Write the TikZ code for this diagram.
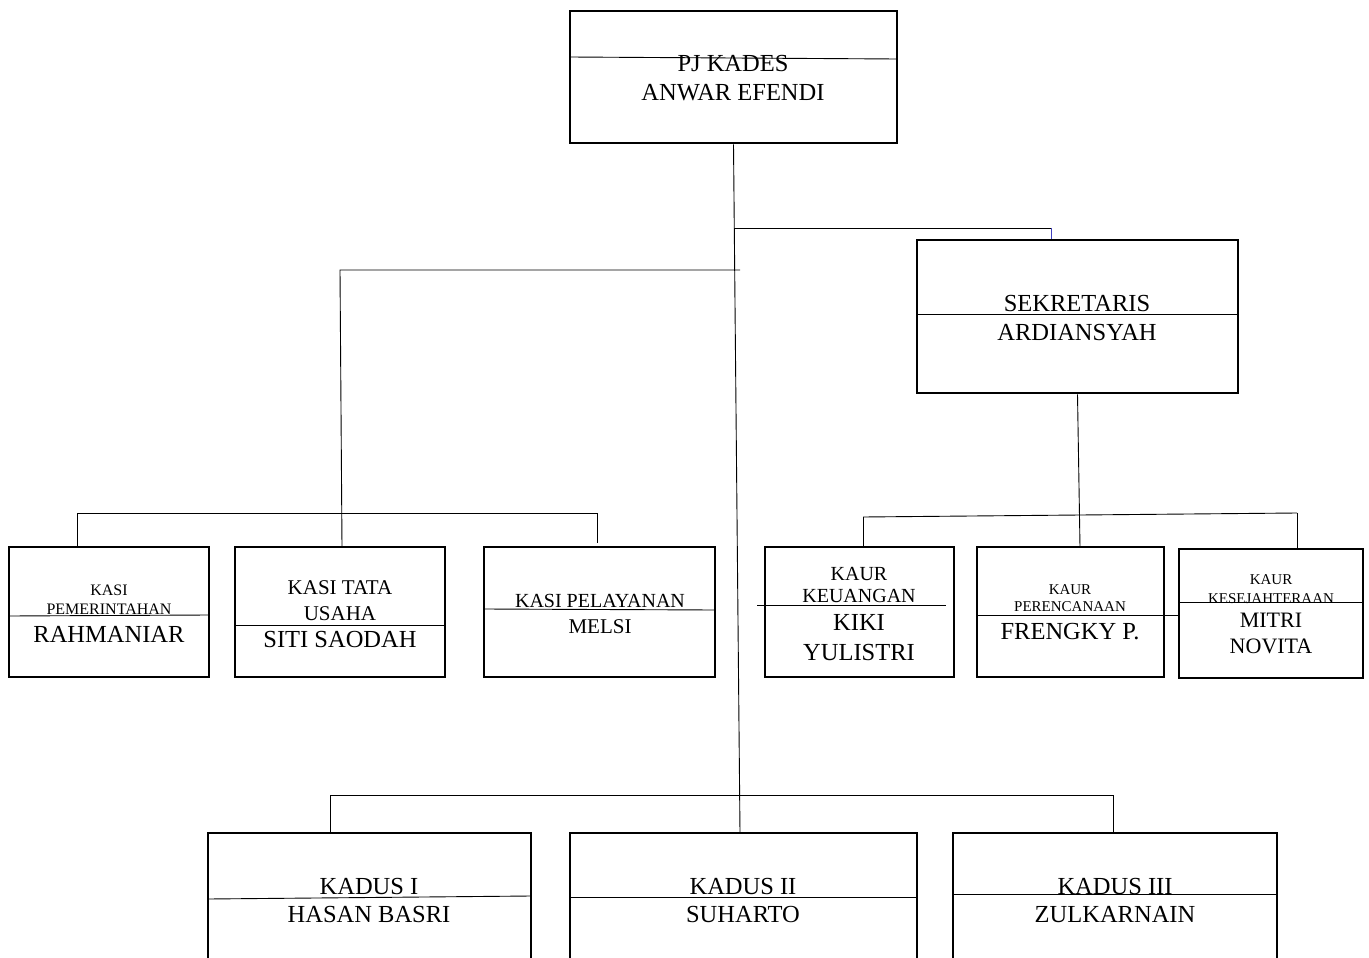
\documentclass[tikz,border=0pt]{standalone}
\usepackage{fontspec}
\setmainfont{Liberation Serif}
\usetikzlibrary{calc}
\tikzset{
  box/.style={draw, line width=2.8pt, inner sep=0pt},
  divider/.style={line width=0.9pt},
  conn/.style={line width=0.9pt},
  big/.style={anchor=base, inner sep=0pt, font=\fontsize{24.5}{26}\selectfont},
  mid/.style={anchor=base, inner sep=0pt, font=\fontsize{21}{23}\selectfont},
  sml/.style={anchor=base, inner sep=0pt, font=\fontsize{16}{18}\selectfont},
}
\begin{document}
\begin{tikzpicture}[x=1pt, y=-1pt]
\clip (0,0) rectangle (1369,958);
\fill[white] (0,0) rectangle (1369,958);

% boxes
\node[box, minimum width=327pt, minimum height=132pt] (pj) at (733.5,77) {};
\node[box, minimum width=321pt, minimum height=153pt] (sek) at (1077.5,316.5) {};
\node[box, minimum width=200pt, minimum height=130pt] (kasi1) at (109,612) {};
\node[box, minimum width=210pt, minimum height=130pt] (kasi2) at (340,612) {};
\node[box, minimum width=231pt, minimum height=130pt] (kasi3) at (599.5,612) {};
\node[box, minimum width=189pt, minimum height=130pt] (kaur1) at (859.5,612) {};
\node[box, minimum width=187pt, minimum height=130pt] (kaur2) at (1070.5,612) {};
\node[box, minimum width=184pt, minimum height=129pt] (kaur3) at (1271,613.5) {};
\node[box, minimum width=323pt, minimum height=200pt] (kadus1) at (369.5,933) {};
\node[box, minimum width=347pt, minimum height=200pt] (kadus2) at (743.5,933) {};
\node[box, minimum width=324pt, minimum height=200pt] (kadus3) at (1115,933) {};

% dividers inside boxes
\draw[divider] (570,57) -- (897,59);
\draw[divider] (917,314) -- (1238,314);
\draw[divider] (9,616) -- (209,615);
\draw[divider] (235,625) -- (445,625);
\draw[divider] (484,609) -- (715,610);
\draw[divider] (757,605) -- (946,605);
\draw[divider] (977,615) -- (1180,615);
\draw[divider] (1179,602) -- (1363,602);
\draw[divider] (208,899) -- (531,896);
\draw[divider] (570,897) -- (917,897);
\draw[divider] (953,894) -- (1277,894);

% texts
\node[big] (t1) at (733,72) {PJ KADES};
\node[big] (t2) at (733,101) {ANWAR EFENDI};
\node[big] (t3) at (1077,311) {SEKRETARIS};
\node[big] (t4) at (1077,340) {ARDIANSYAH};
\node[sml] (t5) at (109,595) {KASI};
\node[sml] (t6) at (109,614) {PEMERINTAHAN};
\node[big] (t7) at (109,642) {RAHMANIAR};
\node[mid] (t8) at (340,594) {KASI TATA};
\node[mid] (t9) at (340,620) {USAHA};
\node[big] (t10) at (340,647) {SITI SAODAH};
\node[mid, font=\fontsize{20}{22}\selectfont] (t11) at (600,607) {KASI PELAYANAN};
\node[mid] (t12) at (600,633) {MELSI};
\node[mid, font=\fontsize{20}{22}\selectfont] (t13) at (859,580) {KAUR};
\node[mid, font=\fontsize{20}{22}\selectfont] (t14) at (859,602) {KEUANGAN};
\node[big] (t15) at (859,630) {KIKI};
\node[big] (t16) at (859,660) {YULISTRI};
\node[sml, font=\fontsize{15}{17}\selectfont] (t17) at (1070,594) {KAUR};
\node[sml, font=\fontsize{15}{17}\selectfont] (t18) at (1070,611) {PERENCANAAN};
\node[big] (t19) at (1070,639) {FRENGKY P.};
\node[sml, font=\fontsize{15}{17}\selectfont] (t20) at (1271,584) {KAUR};
\node[sml, font=\fontsize{15}{17}\selectfont] (t21) at (1271,603) {KESEJAHTERAAN};
\node[mid, font=\fontsize{22}{24}\selectfont] (t22) at (1271,627) {MITRI};
\node[mid, font=\fontsize{22}{24}\selectfont] (t23) at (1271,653) {NOVITA};
\node[big] (t24) at (369,894) {KADUS I};
\node[big] (t25) at (369,922) {HASAN BASRI};
\node[big] (t26) at (743,894) {KADUS II};
\node[big] (t27) at (743,922) {SUHARTO};
\node[big] (t28) at (1115,894) {KADUS III};
\node[big] (t29) at (1115,922) {ZULKARNAIN};

% junctions
\coordinate (jsek) at (734,228);
\coordinate (jkasi) at (740,270);
\coordinate (jkasiL) at (340,270);
\coordinate (hk1) at (77,513);
\coordinate (hk3) at (597,513);
\coordinate (hr1) at (863,517);
\coordinate (hr3) at (1297,513);
\coordinate (hd1) at (330,795);
\coordinate (hd3) at (1113,795);
\coordinate (sektop) at (1051,228);

% connectors
\draw[conn] (pj.south) -- (740,833);
\draw[conn] (jsek) -- (sektop);
\draw[conn, color=blue!50!gray] (sektop) -- (sektop |- sek.north);
\draw[conn] (jkasi) -- (jkasiL) -- (342,547);
\draw[conn] (hk1) -- (hk3);
\draw[conn] (hk1) -- (hk1 |- kasi1.north);
\draw[conn] (hk3) -- (597,543);
\draw[conn] (sek.south) -- (1080,547);
\draw[conn] (hr1) -- (hr3);
\draw[conn] (hr1) -- (hr1 |- kaur1.north);
\draw[conn] (hr3) -- (hr3 |- kaur3.north);
\draw[conn] (hd1) -- (hd3);
\draw[conn] (hd1) -- (hd1 |- kadus1.north);
\draw[conn] (hd3) -- (hd3 |- kadus3.north);
\end{tikzpicture}
\end{document}
